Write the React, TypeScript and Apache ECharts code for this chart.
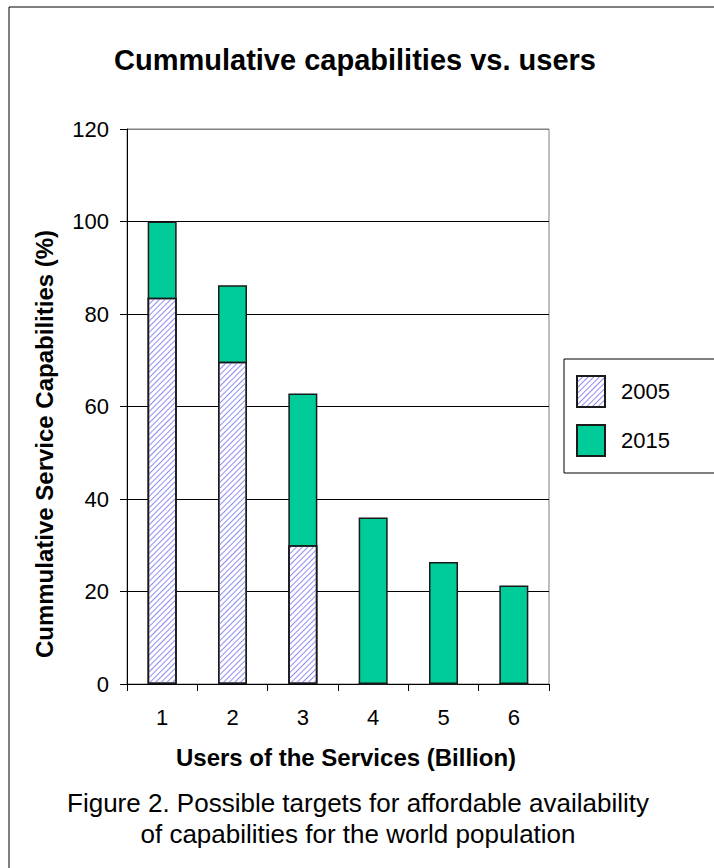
import React, { useEffect, useRef } from "react";
import * as echarts from "echarts";

const categories = ["1", "2", "3", "4", "5", "6"];
const values2005 = [83.5, 69.7, 30.0, 0, 0, 0];
const values2015 = [100, 86.2, 62.8, 36.0, 26.4, 21.3];
const yTicks = { min: 0, max: 120, interval: 20 };
const titleText = "Cummulative capabilities vs. users";
const yAxisName = "Cummulative Service Capabilities (%)";
const xAxisName = "Users of the Services (Billion)";
const captionLines = [
  "Figure 2. Possible targets for affordable availability",
  "of capabilities for the world population",
];

const FONT = '"Liberation Sans", Arial, sans-serif';

export default function App() {
  const ref = useRef<HTMLDivElement>(null);
  useEffect(() => {
    if (!ref.current) return;
    const chart = echarts.init(ref.current, null, { renderer: "svg" });
    const option: any = {
      animation: false,
      backgroundColor: "#ffffff",
      textStyle: { fontFamily: FONT },
      grid: {
        left: 127,
        right: 165,
        top: 129,
        bottom: 184,
        show: true,
        borderColor: "#808080",
        borderWidth: 1,
        containLabel: false,
      },
      legend: {
        data: ["2005", "2015"],
        orient: "vertical",
        left: 564,
        top: 359,
        padding: [16, 90, 16, 12],
        itemWidth: 28,
        itemHeight: 31,
        itemGap: 16,
        borderColor: "#000000",
        borderWidth: 1,
        backgroundColor: "#ffffff",
        icon: "rect",
        textStyle: {
          fontSize: 22,
          color: "#000000",
          fontFamily: FONT,
          padding: [0, 0, 0, 11],
        },
      },
      xAxis: {
        type: "category",
        data: categories,
        boundaryGap: true,
        axisLine: { show: true, lineStyle: { color: "#000000", width: 1 } },
        axisTick: { show: true, inside: false, length: 7, lineStyle: { color: "#000000" } },
        axisLabel: { fontSize: 22, color: "#000000", margin: 22, fontFamily: FONT },
        splitLine: { show: false },
      },
      yAxis: {
        type: "value",
        min: yTicks.min,
        max: yTicks.max,
        interval: yTicks.interval,
        axisLine: { show: true, lineStyle: { color: "#000000", width: 1 } },
        axisTick: { show: true, inside: false, length: 7, lineStyle: { color: "#000000" } },
        axisLabel: { fontSize: 22, color: "#000000", margin: 18, fontFamily: FONT },
        splitLine: {
          show: true,
          lineStyle: {
            color: ["#000000", "#000000", "#000000", "#000000", "#000000", "#000000", "#808080"],
            width: 1,
          },
        },
      },
      series: [
        {
          name: "2015",
          type: "bar",
          data: values2015,
          barWidth: 29,
          barGap: "-100%",
          itemStyle: { color: "#00cc99", borderColor: "#1a1a1a", borderWidth: 1.5 },
          z: 2,
        },
        {
          name: "2005",
          type: "bar",
          data: values2005,
          barWidth: 29,
          barGap: "-100%",
          itemStyle: {
            color: "#ffffff",
            borderColor: "#1a1a1a",
            borderWidth: 1.5,
            decal: {
              symbol: "rect",
              symbolSize: 1,
              dashArrayX: [1, 0],
              dashArrayY: [1, 2.4],
              rotation: -Math.PI / 4,
              color: "#8e8ef2",
            },
          },
          z: 3,
        },
      ],
      graphic: [
        {
          type: "rect",
          shape: { x: 9, y: 7, width: 900, height: 1000 },
          style: { fill: "none", stroke: "#000000", lineWidth: 1 },
          silent: true,
          z: -10,
        },
        {
          type: "text",
          x: 355,
          y: 60,
          style: {
            text: titleText,
            font: `bold 29px ${FONT}`,
            fill: "#000000",
            textAlign: "center",
            textVerticalAlign: "middle",
          },
        },
        {
          type: "text",
          x: 44,
          y: 444,
          rotation: Math.PI / 2,
          style: {
            text: yAxisName,
            font: `bold 24px ${FONT}`,
            fill: "#000000",
            textAlign: "center",
            textVerticalAlign: "middle",
          },
        },
        {
          type: "text",
          x: 346,
          y: 757,
          style: {
            text: xAxisName,
            font: `bold 24px ${FONT}`,
            fill: "#000000",
            textAlign: "center",
            textVerticalAlign: "middle",
          },
        },
        {
          type: "text",
          x: 358,
          y: 803,
          style: {
            text: captionLines[0],
            font: `26px ${FONT}`,
            fill: "#000000",
            textAlign: "center",
            textVerticalAlign: "middle",
          },
        },
        {
          type: "text",
          x: 358,
          y: 834,
          style: {
            text: captionLines[1],
            font: `26px ${FONT}`,
            fill: "#000000",
            textAlign: "center",
            textVerticalAlign: "middle",
          },
        },
      ],
    };
    chart.setOption(option);
    return () => chart.dispose();
  }, []);
  return (
    <div
      ref={ref}
      style={{ position: "fixed", left: 0, top: 0, width: 714, height: 868, background: "#fff" }}
    />
  );
}
